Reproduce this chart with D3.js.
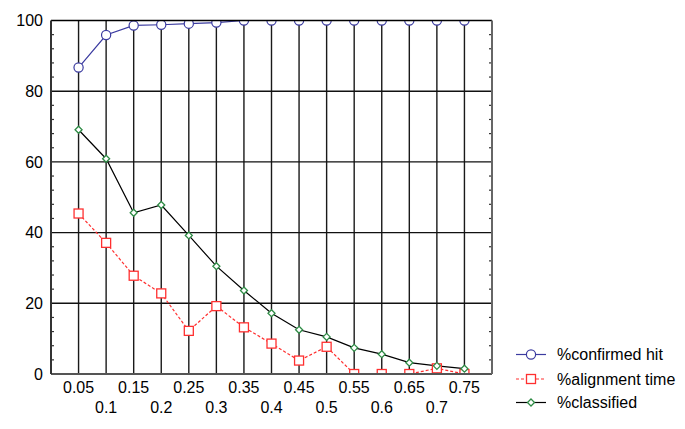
<!DOCTYPE html>
<html><head><meta charset="utf-8">
<script src="https://cdn.jsdelivr.net/npm/d3@7"></script>
<style>body{margin:0;background:#fff}svg{display:block}text{font-family:"Liberation Sans",Arial,sans-serif;font-size:16px;fill:#000}</style>
</head><body><svg id="c" width="685" height="429"></svg>
<script>
const categories = [0.05,0.1,0.15,0.2,0.25,0.3,0.35,0.4,0.45,0.5,0.55,0.6,0.65,0.7,0.75];
const tickLabels = ["0.05","0.1","0.15","0.2","0.25","0.3","0.35","0.4","0.45","0.5","0.55","0.6","0.65","0.7","0.75"];
const confirmedHit = [86.7,95.9,98.6,98.8,99.1,99.4,100,100,100,100,100,100,100,100,100];
const alignmentTime = [45.4,37.1,27.8,22.8,12.2,19.2,13.2,8.6,3.8,7.7,0,0,0,1.6,0];
const classified = [69.1,60.9,45.6,47.8,39.2,30.5,23.6,17.2,12.5,10.5,7.4,5.6,3.2,2.3,1.5];
const yTicks = [0,20,40,60,80,100];
const seriesNames = ["%confirmed hit","%alignment time","%classified"];

const svg = d3.select("#c");
const L=51,R=492,T=20.5,B=374;
const x = d3.scaleLinear().domain([0,0.8]).range([L,R]);
const y = d3.scaleLinear().domain([0,100]).range([B,T]);

svg.append("defs").append("clipPath").attr("id","pc").append("rect")
 .attr("x",L).attr("y",T).attr("width",R-L).attr("height",B-T);

// grid
const g = svg.append("g");
g.selectAll("line.v").data(categories).join("line")
 .attr("x1",d=>x(d)).attr("x2",d=>x(d)).attr("y1",T).attr("y2",B)
 .attr("stroke","#1a1a1a").attr("stroke-width",1.4);
g.selectAll("line.h").data(yTicks.filter(d=>d>0&&d<100)).join("line")
 .attr("x1",L).attr("x2",R).attr("y1",d=>y(d)).attr("y2",d=>y(d))
 .attr("stroke","#111").attr("stroke-width",1.4);
// minor ticks
const minor = d3.range(0,101,4).filter(d=>d%20!==0);
g.selectAll("line.ml").data(minor).join("line")
 .attr("x1",L).attr("x2",L+3).attr("y1",d=>y(d)).attr("y2",d=>y(d)).attr("stroke","#333").attr("stroke-width",1.2);
g.selectAll("line.mr").data(minor).join("line")
 .attr("x1",R-3).attr("x2",R).attr("y1",d=>y(d)).attr("y2",d=>y(d)).attr("stroke","#333").attr("stroke-width",1.2);

// y labels
svg.selectAll("text.yl").data(yTicks).join("text")
 .attr("x",43).attr("y",d=>y(d)).attr("dy","0.36em").attr("text-anchor","end").text(d=>d);
// x labels
svg.selectAll("text.xl").data(categories).join("text")
 .attr("x",d=>x(d)).attr("y",(d,i)=>i%2===0?393:413).attr("text-anchor","middle")
 .text((d,i)=>tickLabels[i]);

const line = d3.line().x((d,i)=>x(categories[i])).y(d=>y(d));
const colBlue="#3b3ba0", colRed="#ff3030", colGreen="#2e8b45";
const plot = svg.append("g").attr("clip-path","url(#pc)");
plot.append("path").attr("d",line(classified)).attr("fill","none").attr("stroke","#000").attr("stroke-width",1.2);
plot.append("path").attr("d",line(alignmentTime)).attr("fill","none").attr("stroke",colRed).attr("stroke-width",1.2).attr("stroke-dasharray","3,2");
plot.append("path").attr("d",line(confirmedHit)).attr("fill","none").attr("stroke",colBlue).attr("stroke-width",1.2);

function circle(sel,cx,cy){sel.append("circle").attr("cx",cx).attr("cy",cy).attr("r",4.6).attr("fill","#fff").attr("stroke",colBlue).attr("stroke-width",1.2);}
function square(sel,cx,cy){sel.append("rect").attr("x",cx-4.5).attr("y",cy-4.5).attr("width",9).attr("height",9).attr("fill","#fff").attr("stroke",colRed).attr("stroke-width",1.3);}
function diamond(sel,cx,cy){sel.append("path").attr("d",`M${cx},${cy-3.5}L${cx+3.5},${cy}L${cx},${cy+3.5}L${cx-3.5},${cy}Z`).attr("fill","#fff").attr("stroke",colGreen).attr("stroke-width",1.3);}

alignmentTime.forEach((v,i)=>square(plot,x(categories[i]),y(v)));
classified.forEach((v,i)=>diamond(plot,x(categories[i]),y(v)));
confirmedHit.forEach((v,i)=>circle(plot,x(categories[i]),y(v)));

// frame
svg.append("line").attr("x1",L).attr("x2",R).attr("y1",T).attr("y2",T).attr("stroke","#000").attr("stroke-width",1.6);
svg.append("line").attr("x1",L).attr("x2",R).attr("y1",B).attr("y2",B).attr("stroke","#555").attr("stroke-width",2);
svg.append("line").attr("x1",L).attr("x2",L).attr("y1",T).attr("y2",B).attr("stroke","#333").attr("stroke-width",2);
svg.append("line").attr("x1",R).attr("x2",R).attr("y1",T).attr("y2",B).attr("stroke","#666").attr("stroke-width",2);

// legend
const lg = svg.append("g");
const rows=[354.5,379,402.5];
lg.append("line").attr("x1",516).attr("x2",546).attr("y1",rows[0]).attr("y2",rows[0]).attr("stroke",colBlue).attr("stroke-width",1.2);
circle(lg,531,rows[0]);
lg.append("line").attr("x1",516).attr("x2",546).attr("y1",rows[1]).attr("y2",rows[1]).attr("stroke",colRed).attr("stroke-width",1.2).attr("stroke-dasharray","3,2");
square(lg,531,rows[1]);
lg.append("line").attr("x1",516).attr("x2",546).attr("y1",rows[2]).attr("y2",rows[2]).attr("stroke","#000").attr("stroke-width",1.2);
diamond(lg,531,rows[2]);
seriesNames.forEach((s,i)=>lg.append("text").attr("x",557).attr("y",rows[i]).attr("dy","0.36em").text(s));
</script></body></html>
